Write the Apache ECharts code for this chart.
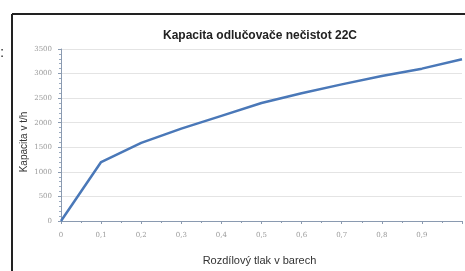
<!DOCTYPE html>
<html>
<head>
<meta charset="utf-8">
<script src="https://cdn.jsdelivr.net/npm/echarts@6/dist/echarts.min.js"></script>
<style>
  html, body { margin: 0; padding: 0; background: #fff; }
  #main { width: 465px; height: 271px; }
</style>
</head>
<body>
<div id="main"></div>
<script>
// tlak (bar) a kapacita (t/h)
var pressure = [0, 0.1, 0.2, 0.3, 0.4, 0.5, 0.6, 0.7, 0.8, 0.9, 1.0];
var capacity = [0, 1200, 1590, 1880, 2140, 2400, 2600, 2780, 2950, 3100, 3290];

var points = pressure.map(function (p, i) { return [p, capacity[i]]; });

var myChart = echarts.init(document.getElementById('main'));
var labelFont = { color: '#9a9a9a', fontSize: 7, fontFamily: 'DejaVu Serif' };

var option = {
  backgroundColor: '#fff',
  animation: false,
  title: {
    text: 'Kapacita odlučovače nečistot 22C',
    left: 255, top: 25, textAlign: 'center',
    textStyle: { fontSize: 12, fontWeight: 'bold', color: '#222', fontFamily: 'Liberation Sans' }
  },
  grid: { left: 61, top: 49, width: 412, height: 174 },
  xAxis: {
    type: 'value', min: 0, max: 1, interval: 0.1,
    name: 'Rozdílový tlak v barech', nameLocation: 'middle', nameGap: 34,
    nameTextStyle: { fontSize: 11, color: '#333', fontFamily: 'Liberation Sans', padding: [0, 4, 0, 0] },
    axisLine: { lineStyle: { color: '#8a9ab0', width: 1 } },
    axisTick: { show: true, length: 3, lineStyle: { color: '#8a9ab0' } },
    minorTick: { show: true, splitNumber: 2, length: 2, lineStyle: { color: '#8a9ab0' } },
    splitLine: { show: false },
    axisLabel: Object.assign({ margin: 11, formatter: function (v) {
      return v === 1 ? '' : String(Math.round(v * 10) / 10).replace('.', ',');
    } }, labelFont)
  },
  yAxis: {
    type: 'value', min: 0, max: 3500, interval: 500,
    name: 'Kapacita v t/h', nameLocation: 'middle', nameGap: 32, nameMoveOverlap: false,
    nameTextStyle: { fontSize: 10, color: '#333', fontFamily: 'Liberation Sans', padding: [0, 14, 0, 0] },
    axisLine: { show: true, lineStyle: { color: '#8a9ab0', width: 1 } },
    axisTick: { show: true, length: 3, lineStyle: { color: '#8a9ab0' } },
    minorTick: { show: true, splitNumber: 5, length: 2, lineStyle: { color: '#9aaabf' } },
    splitLine: { show: true, lineStyle: { color: '#e4e4e4', width: 1 } },
    axisLabel: Object.assign({ margin: 9, formatter: function (v) { return String(v); } }, labelFont)
  },
  series: [{
    type: 'line',
    data: points,
    showSymbol: false,
    lineStyle: { color: '#4a78b8', width: 2.5 }
  }],
  graphic: [
    { type: 'line', shape: { x1: 12, y1: 14, x2: 12, y2: 271 }, style: { stroke: '#222', lineWidth: 2 } },
    { type: 'line', shape: { x1: 12, y1: 14, x2: 465, y2: 14 }, style: { stroke: '#222', lineWidth: 2 } },
    { type: 'text', left: 0, top: 45, style: { text: ':', fontSize: 15, fill: '#333' } }
  ]
};

myChart.setOption(option);
</script>
</body>
</html>
